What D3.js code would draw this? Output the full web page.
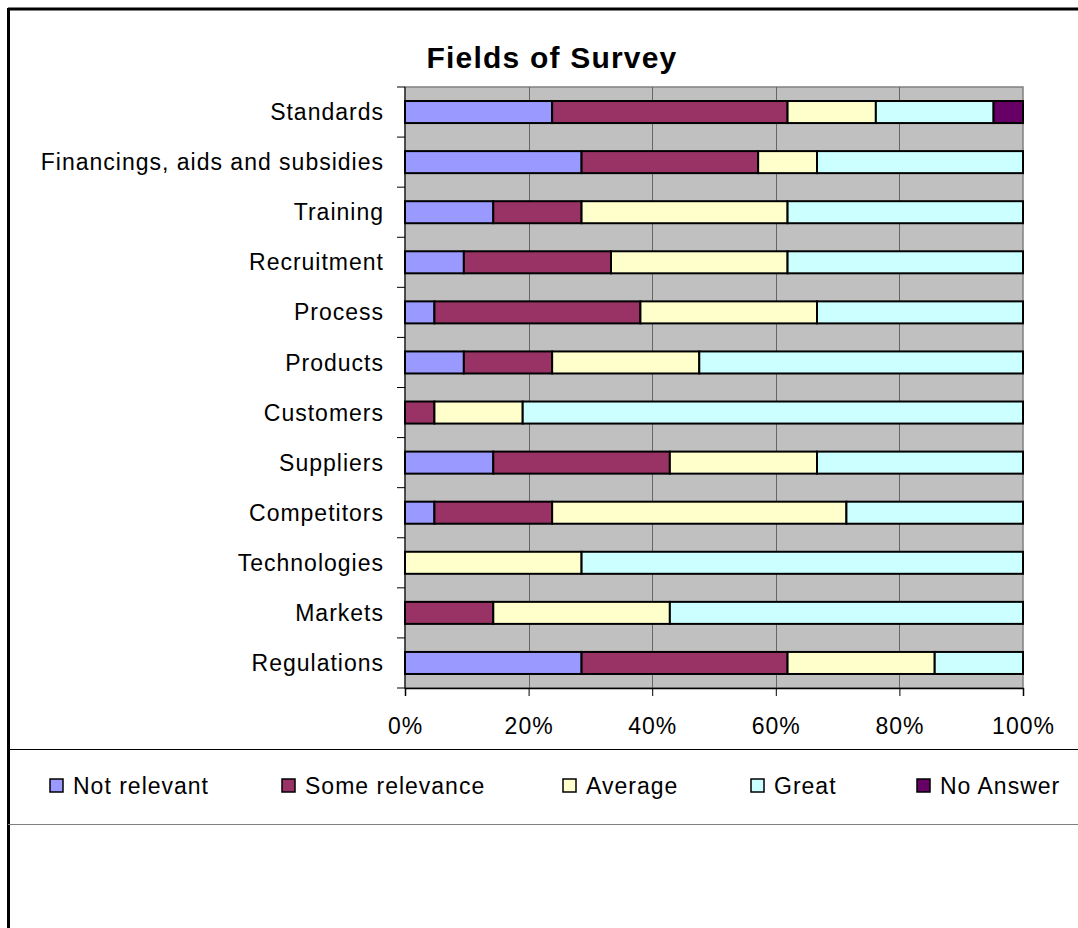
<!DOCTYPE html>
<html>
<head>
<meta charset="utf-8">
<script src="https://cdn.jsdelivr.net/npm/d3@7"></script>
<style>
  html, body { margin: 0; padding: 0; background: #fff; }
  svg { display: block; font-family: Arial, "Liberation Sans", sans-serif; }
</style>
</head>
<body>
<svg id="chart" width="1078" height="928"></svg>
<script>
// Survey fields, listed top to bottom
const categories = ["Standards", "Financings, aids and subsidies", "Training", "Recruitment",
  "Process", "Products", "Customers", "Suppliers", "Competitors", "Technologies", "Markets", "Regulations"];

// Number of answers per rating (21 respondents)
const notRelevant    = [5, 6, 3, 2, 1, 2, 0, 3, 1, 0, 0, 6];
const someRelevance  = [8, 6, 3, 5, 7, 3, 1, 6, 4, 0, 3, 7];
const average        = [3, 2, 7, 6, 6, 5, 3, 5, 10, 6, 6, 5];
const great          = [4, 7, 8, 8, 7, 11, 17, 7, 6, 15, 12, 3];
const noAnswer       = [1, 0, 0, 0, 0, 0, 0, 0, 0, 0, 0, 0];

const seriesNames = ["Not relevant", "Some relevance", "Average", "Great", "No Answer"];
const seriesColors = ["#9999FF", "#993366", "#FFFFCC", "#CCFFFF", "#660066"];
const tickValues = [0, 0.2, 0.4, 0.6, 0.8, 1];

const rows = categories.map((c, i) => ({
  category: c,
  "Not relevant": notRelevant[i],
  "Some relevance": someRelevance[i],
  "Average": average[i],
  "Great": great[i],
  "No Answer": noAnswer[i]
}));

const svg = d3.select("#chart");
const labelSize = 23;
const labelSpacing = 1;

// Frame lines
svg.append("line").attr("x1", 8).attr("x2", 1078).attr("y1", 9).attr("y2", 9)
  .attr("stroke", "#000").attr("stroke-width", 3);
svg.append("line").attr("x1", 8.5).attr("x2", 8.5).attr("y1", 8).attr("y2", 928)
  .attr("stroke", "#000").attr("stroke-width", 3);
svg.append("line").attr("x1", 8).attr("x2", 1078).attr("y1", 749.5).attr("y2", 749.5)
  .attr("stroke", "#000").attr("stroke-width", 1.2);
svg.append("line").attr("x1", 8).attr("x2", 1078).attr("y1", 824.5).attr("y2", 824.5)
  .attr("stroke", "#808080").attr("stroke-width", 1.2);

// Plot geometry
const plot = { left: 405, right: 1023, top: 87, bottom: 688 };

const x = d3.scaleLinear().domain([0, 1]).range([plot.left, plot.right]);
const y = d3.scaleBand().domain(categories).range([plot.top, plot.bottom]).paddingInner(0.56).paddingOuter(0.28);
const yBand = d3.scaleBand().domain(categories).range([plot.top, plot.bottom]);

// Title
svg.append("text").attr("x", 552).attr("y", 68).attr("text-anchor", "middle")
  .attr("font-size", 30).attr("font-weight", "bold").attr("letter-spacing", 1.2)
  .text("Fields of Survey");

// Plot background
svg.append("rect").attr("x", plot.left).attr("y", plot.top)
  .attr("width", plot.right - plot.left).attr("height", plot.bottom - plot.top)
  .attr("fill", "#C0C0C0").attr("stroke", "#808080").attr("stroke-width", 1.5);

// Vertical gridlines
svg.append("g").selectAll("line").data(tickValues.slice(1, -1)).join("line")
  .attr("x1", d => Math.round(x(d)) + 0.5).attr("x2", d => Math.round(x(d)) + 0.5)
  .attr("y1", plot.top).attr("y2", plot.bottom)
  .attr("stroke", "#666").attr("stroke-width", 1);

// Stacked, normalised bars
const stack = d3.stack().keys(seriesNames).offset(d3.stackOffsetExpand);
const layers = stack(rows);

svg.append("g").selectAll("g").data(layers).join("g")
  .attr("fill", (d, i) => seriesColors[i])
  .selectAll("rect").data(d => d.filter(s => s[1] - s[0] > 0)).join("rect")
  .attr("x", d => x(d[0]))
  .attr("y", d => y(d.data.category))
  .attr("width", d => x(d[1]) - x(d[0]))
  .attr("height", y.bandwidth())
  .attr("stroke", "#000").attr("stroke-width", 2);

// Category axis
const yAxis = svg.append("g").attr("transform", `translate(${plot.left},0)`);
yAxis.append("line").attr("x1", 0).attr("x2", 0).attr("y1", plot.top).attr("y2", plot.bottom + 0.5)
  .attr("stroke", "#000").attr("stroke-width", 1);
yAxis.selectAll("line.tick").data(categories.concat(["__end"])).join("line").attr("class", "tick")
  .attr("x1", -8).attr("x2", 0)
  .attr("y1", (d, i) => plot.top + i * yBand.bandwidth())
  .attr("y2", (d, i) => plot.top + i * yBand.bandwidth())
  .attr("stroke", "#000").attr("stroke-width", 1);
yAxis.selectAll("text").data(categories).join("text")
  .attr("x", -21).attr("y", d => yBand(d) + yBand.bandwidth() / 2)
  .attr("dy", "0.35em").attr("text-anchor", "end")
  .attr("font-size", labelSize).attr("letter-spacing", labelSpacing)
  .attr("fill", "#000").text(d => d);

// Value axis
const xAxis = d3.axisBottom(x).tickValues(tickValues).tickFormat(d3.format(".0%"))
  .tickSize(8).tickPadding(22);
const gx = svg.append("g").attr("transform", `translate(0,${plot.bottom})`).call(xAxis);
gx.select(".domain").attr("stroke", "#000").attr("stroke-width", 1.5);
gx.selectAll(".tick line").attr("stroke", "#000");
gx.selectAll(".tick text").attr("font-size", labelSize).attr("letter-spacing", labelSpacing)
  .attr("fill", "#000").attr("font-family", "Arial, 'Liberation Sans', sans-serif");

// Legend
const legendX = [50, 282, 563, 751, 917];
const legend = svg.append("g").selectAll("g").data(seriesNames).join("g")
  .attr("transform", (d, i) => `translate(${legendX[i]},779)`);
legend.append("rect").attr("width", 13).attr("height", 13)
  .attr("fill", (d, i) => seriesColors[i]).attr("stroke", "#000").attr("stroke-width", 1.5);
legend.append("text").attr("x", 23).attr("y", 7).attr("dy", "0.35em")
  .attr("font-size", labelSize).attr("letter-spacing", labelSpacing)
  .attr("fill", "#000").text(d => d);
</script>
</body>
</html>
